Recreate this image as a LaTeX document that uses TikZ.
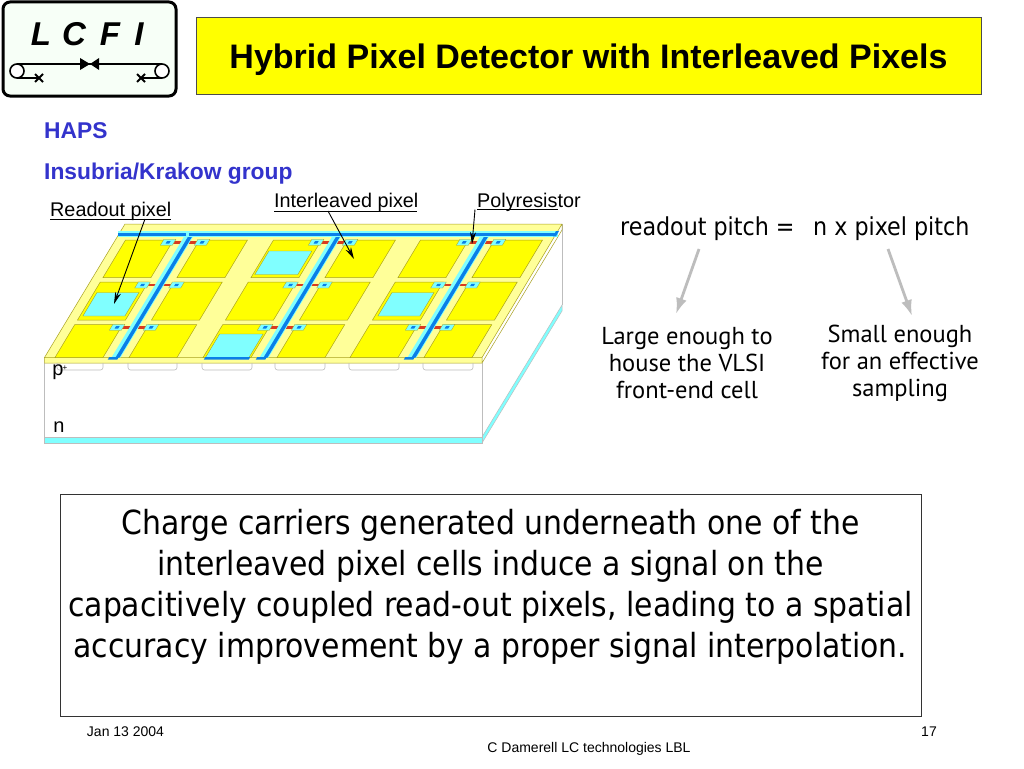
\documentclass[tikz,border=0pt]{standalone}
\usepackage{fontspec}
\setmainfont{Liberation Sans}
\newfontfamily\hand{PT Sans}
\newfontfamily\bodyf{DejaVu Sans Condensed}
\usetikzlibrary{arrows.meta}
\definecolor{surf}{HTML}{FFFF99}
\definecolor{pad}{HTML}{FFFF00}
\definecolor{padln}{HTML}{A8A020}
\definecolor{aqua}{HTML}{80FFFF}
\definecolor{lineblue}{HTML}{0A7FE8}
\definecolor{resist}{HTML}{D83A20}
\definecolor{edge}{HTML}{BDBDBD}
\definecolor{headblue}{HTML}{3333CC}
\tikzset{
 padbox/.style={fill=pad,draw=padln,line width=0.5pt},
 cellbox/.style={fill=aqua,draw=padln,line width=0.4pt},
 lbl/.style={inner sep=0pt,font=\fontsize{19.8}{20}\selectfont},
 callout/.style={-{Stealth[length=12pt,width=6pt]},line width=0.9pt,black},
 sizearrow/.style={-{Latex[length=16pt,width=11pt]},line width=2.8pt,edge},
 hnote/.style={inner sep=0pt,align=center,font=\hand\fontsize{24.5}{27}\selectfont},
 pitch/.style={inner sep=0pt,font=\bodyf\fontsize{24.7}{25}\selectfont},
 heading/.style={inner sep=0pt,anchor=west,text=headblue,font=\bfseries\fontsize{22.8}{23}\selectfont},
 foot/.style={inner sep=0pt,font=\fontsize{14}{14}\selectfont},
 logotext/.style={inner sep=0pt,font=\bfseries\itshape\fontsize{33}{33}\selectfont},
}
\begin{document}
\begin{tikzpicture}[x=1pt,y=-1pt]
\useasboundingbox (0,0) rectangle (1024,768);
\fill[white] (0,0) rectangle (1024,768);
% logo
\draw[line width=3pt,fill=green!3!white,rounded corners=7pt] (3,2) rectangle (176,96);
\node[logotext] (ll) at (41,34) {L};
\node[logotext] (lc) at (74,34) {C};
\node[logotext] (lf) at (110,34) {F};
\node[logotext] (li) at (139,34) {I};
\draw[line width=1.6pt] (17,64) -- (162,64);
\fill (80,58) -- (80,70) -- (90,64) -- cycle;
\fill (99,58) -- (99,70) -- (90,64) -- cycle;
\draw[line width=1.6pt,fill=white] (17,71) circle (7);
\draw[line width=1.6pt,fill=white] (162,71) circle (7);
\draw[line width=1.6pt] (17,78) -- (39,78) (162,78) -- (141,78);
\draw[line width=1.8pt] (35,74) -- (43,82) (35,82) -- (43,74);
\draw[line width=1.8pt] (137,74) -- (145,82) (137,82) -- (145,74);
% title
\node[draw=black!70,line width=0.8pt,fill=pad,minimum width=785pt,minimum height=77pt,inner sep=0pt,anchor=north west] (title) at (196,17) {};
\node[inner sep=0pt,font=\bfseries\fontsize{34}{34}\selectfont] (titletext) at (588.5,59.5) {Hybrid Pixel Detector with Interleaved Pixels};
\node[heading] (haps) at (44,131) {HAPS};
\node[heading] (group) at (44,173.5) {Insubria/Krakow group};
% block
\fill[aqua] (44.5,437) -- (482,437) -- (562,305) -- (562,311) -- (482,443) -- (44.5,443) -- cycle;
\draw[edge,line width=0.5pt] (44.5,437) -- (482,437) -- (482,443) -- (44.5,443) -- cycle;
\draw[edge,line width=0.5pt] (482,437) -- (562,305) -- (562,311) -- (482,443);
\draw[edge,line width=0.6pt] (44.5,363) -- (44.5,437) (482,363) -- (482,437) (562,224) -- (562,305);
\fill[surf] (44.5,357.5) -- (125,224) -- (562,224) -- (482,357.5) -- (482,363) -- (44.5,363) -- cycle;
\draw[padln,line width=0.5pt] (44.5,357.5) -- (125,224) -- (562,224) -- (482,357.5) -- cycle (44.5,357.5) -- (44.5,363) -- (482,363) -- (482,357.5) (482,363) -- (562,230) -- (562,224);
\foreach \a/\b in {57/103,128/177,202/252,275/325,349/399,423/473}
  \draw[edge,line width=0.6pt,rounded corners=2.5pt] (\a,363) -- (\a,370) -- (\b,370) -- (\b,363);
\begin{scope}[shift={(214.5,0)},xslant=0.6]
 \foreach \a/\b in {55/103,129/177,203/251,277/325,350/398,424/472} {
  \draw[padbox] (\a,240) rectangle (\b,277.5);
  \draw[padbox] (\a,282) rectangle (\b,320);
  \draw[padbox] (\a,324.5) rectangle (\b,357.5);
 }
 \draw[cellbox] (58,292.5) rectangle (100,316);
 \draw[cellbox] (205,251) rectangle (248,274.5);
 \draw[cellbox] (205.5,334) rectangle (249,357.5);
 \draw[cellbox] (353,292.5) rectangle (395,316);
 \fill[lineblue] (205,357) rectangle (250,359.5);
 \foreach \c in {116,264,412} \foreach \r in {242.3,285,327.3} {
  \draw[resist,line width=2.6pt] (\c-17,\r) -- (\c+17,\r);
  \foreach \s in {-17,17} {
   \draw[fill=aqua,draw=padln,line width=0.3pt] (\c+\s-6,\r-3) rectangle (\c+\s+6,\r+3);
   \fill[lineblue] (\c+\s-1.8,\r-1.2) rectangle (\c+\s+1.8,\r+1.2);
  }
 }
 \foreach \c in {116,264,412} {
  \fill[aqua] (\c-4.5,236.5) rectangle (\c+4.5,357.5);
  \fill[lineblue] (\c-.5,236) rectangle (\c+3.5,357.5);
  \fill[lineblue] (\c-7,357) rectangle (\c+2.5,359.5);
 }
\end{scope}
\fill[aqua] (118,231) rectangle (558,236.5);
\fill[lineblue] (118,232.7) rectangle (186,236.3);
\fill[lineblue] (189,232.7) rectangle (556,236.3);
\fill[lineblue] (553,236.3) -- (556,236.3) -- (559,231) -- (556,231) -- cycle;
% labels
\node[inner sep=0,font=\fontsize{20}{20}\selectfont] (p) at (58,372.5) {p};
\node[inner sep=0,font=\fontsize{8}{8}\selectfont] (plus) at (65,368) {+};
\node[inner sep=0,font=\fontsize{20}{20}\selectfont] (n) at (59,427) {n};
\node[lbl,anchor=west] (ro) at (50,211) {Readout pixel};
\node[lbl,anchor=west] (il) at (274,202.5) {Interleaved pixel};
\node[lbl,anchor=west] (pr) at (477,202) {Polyresistor};
\draw[black,line width=0.9pt] (50,219) -- (171,219) (274,211) -- (417,211) (477,209.5) -- (558,209.5);
\coordinate (roend) at (114,304);
\coordinate (ilend) at (354,259);
\coordinate (prend) at (472,244);
\coordinate (rostart) at (145,219);
\coordinate (ilstart) at (328,211);
\coordinate (prstart) at (475,209.5);
\draw[callout] (rostart) -- (roend);
\draw[callout] (ilstart) -- (ilend);
\draw[callout] (prstart) -- (prend);
% right side
\node[pitch,anchor=west] (rp) at (620,229) {readout pitch =};
\node[pitch,anchor=west] (pp) at (813,229) {n x pixel pitch};
\node[hnote] (big) at (687,363.5) {Large enough to\\house the VLSI\\front-end cell};
\node[hnote] (small) at (900,363.5) {Small enough\\for an effective\\sampling};
\coordinate (a1) at (699,249);\coordinate (a2) at (676,314);
\coordinate (b1) at (888,249);\coordinate (b2) at (912,316);
\draw[sizearrow] (a1) -- (a2);
\draw[sizearrow] (b1) -- (b2);
% text box
\node[draw=black!80,line width=0.8pt,minimum width=861pt,minimum height=222pt,anchor=north west,inner sep=0pt] (box) at (60,494) {};
\node[inner sep=0pt,align=center,anchor=north,font=\bodyf\fontsize{33.2}{41}\selectfont] (body) at (490.5,509) {Charge carriers generated underneath one of the\\interleaved pixel cells induce a signal on the\\capacitively coupled read-out pixels, leading to a spatial\\accuracy improvement by a proper signal interpolation.};
% footer
\node[foot] (date) at (125.5,731.5) {Jan 13 2004};
\node[foot] (num) at (929,731.5) {17};
\node[foot] (cred) at (589,748.5) {C Damerell LC technologies LBL};
\end{tikzpicture}
\end{document}
